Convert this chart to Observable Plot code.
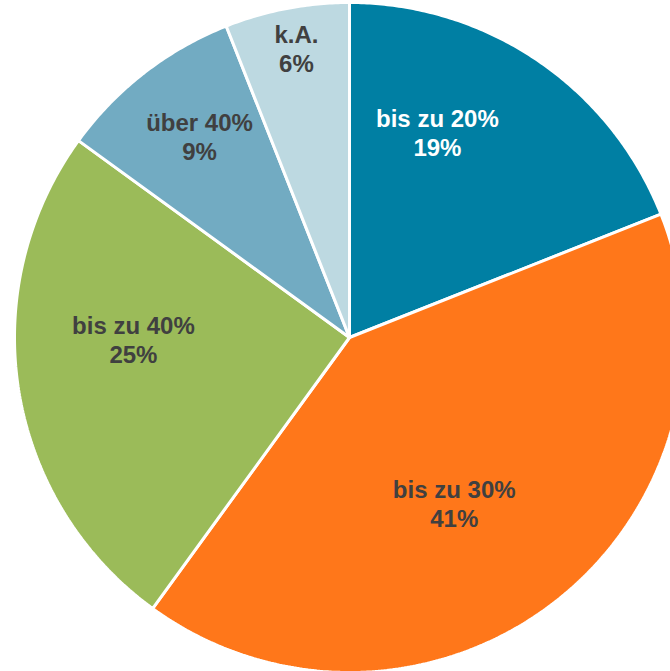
<!DOCTYPE html>
<html>
<head>
<meta charset="utf-8">
<script src="https://cdn.jsdelivr.net/npm/d3@7"></script>
<script src="https://cdn.jsdelivr.net/npm/@observablehq/plot@0.6"></script>
<style>
  html, body { margin: 0; padding: 0; background: #ffffff; overflow: hidden; }
  #chart svg { display: block; }
</style>
</head>
<body>
<div id="chart"></div>
<script>
// Data
const categories = ["bis zu 20%", "bis zu 30%", "bis zu 40%", "über 40%", "k.A."];
const shares = [19, 41, 25, 9, 6];

// Styles / layout (not data)
const colors = ["#007FA3", "#FF771A", "#9BBB59", "#72ABC2", "#BDD9E1"];
const labelColors = ["#ffffff", "#404040", "#404040", "#404040", "#404040"];
const labelRadius = [0.666, 0.585, 0.645, 0.749, 0.878];   // fraction of radius
const labelAngleShift = [-11, 5.5, 8.5, 1.1, 0.4];         // degrees from slice mid-angle

const W = 670, H = 671;
const R = 335;            // pie radius in data units (1 unit = 1 px)
const cx = 349, cy = 337; // centre position in pixels

const slices = d3.pie().sort(null).startAngle(0).endAngle(2 * Math.PI)(shares);

const outline = [];
slices.forEach((s, i) => {
  const n = Math.max(2, Math.ceil((s.endAngle - s.startAngle) / (Math.PI / 360)));
  outline.push({k: i, x: 0, y: 0});
  for (let j = 0; j <= n; j++) {
    const a = s.startAngle + (s.endAngle - s.startAngle) * j / n;
    outline.push({k: i, x: R * Math.sin(a), y: R * Math.cos(a)});
  }
  outline.push({k: i, x: 0, y: 0});
});

const labels = slices.map((s, i) => {
  const a = (s.startAngle + s.endAngle) / 2 + labelAngleShift[i] * Math.PI / 180;
  const r = R * labelRadius[i];
  return {k: i, x: r * Math.sin(a), y: r * Math.cos(a), text: categories[i] + "\n" + shares[i] + "%"};
});

const chart = Plot.plot({
  width: W,
  height: H,
  margin: 0,
  style: {background: "#ffffff"},
  x: {domain: [-cx, W - cx], range: [0, W], axis: null},
  y: {domain: [-(H - cy), cy], range: [H, 0], axis: null},
  marks: [
    Plot.line(outline, {
      x: "x", y: "y", z: "k",
      fill: d => colors[d.k],
      stroke: "#ffffff",
      strokeWidth: 3,
      strokeLinejoin: "miter",
      curve: "linear"
    }),
    Plot.text(labels, {
      x: "x", y: "y", text: "text",
      fill: d => labelColors[d.k],
      fontSize: 24,
      fontWeight: "bold",
      fontFamily: "Liberation Sans, Arial, sans-serif",
      lineHeight: 1.2,
      textAnchor: "middle"
    })
  ]
});

document.getElementById("chart").appendChild(chart);
</script>
</body>
</html>
